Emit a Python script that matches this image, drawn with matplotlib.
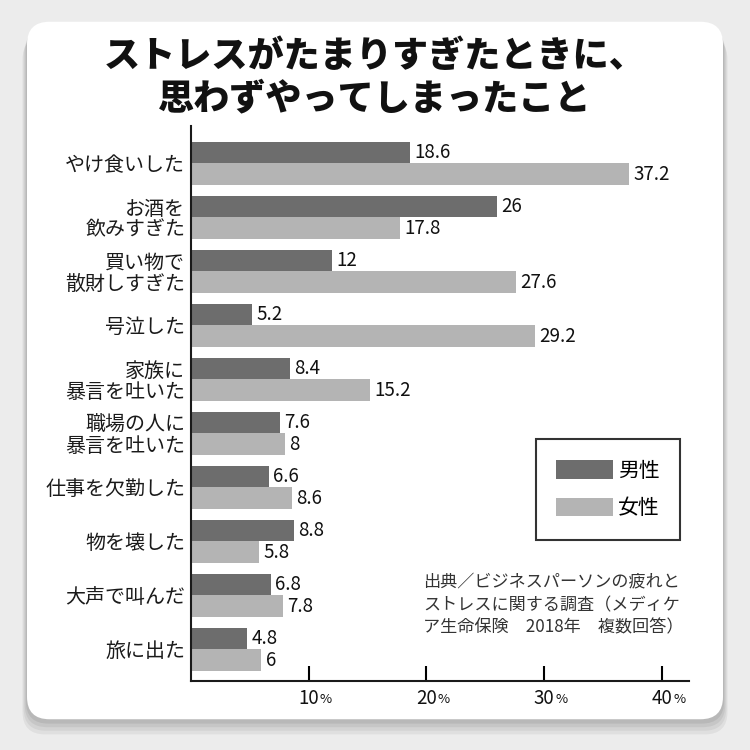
import numpy as np
import matplotlib.pyplot as plt
from matplotlib.patches import FancyBboxPatch

plt.rcParams['font.family'] = ['Noto Sans CJK JP', 'DejaVu Sans']

# data
title_lines = ['ストレスがたまりすぎたときに、', '思わずやってしまったこと']
categories = ['やけ食いした', 'お酒を\n飲みすぎた', '買い物で\n散財しすぎた', '号泣した',
              '家族に\n暴言を吐いた', '職場の人に\n暴言を吐いた', '仕事を欠勤した',
              '物を壊した', '大声で叫んだ', '旅に出た']
male = [18.6, 26, 12, 5.2, 8.4, 7.6, 6.6, 8.8, 6.8, 4.8]
female = [37.2, 17.8, 27.6, 29.2, 15.2, 8, 8.6, 5.8, 7.8, 6]
series_names = ['男性', '女性']
ticks = [10, 20, 30, 40]
source = '出典／ビジネスパーソンの疲れと\nストレスに関する調査（メディケ\nア生命保険　2018年　複数回答）'

dark = '#6d6d6d'
light = '#b4b4b4'

fig = plt.figure(figsize=(7.5, 7.5), dpi=100, facecolor='#ececec')

# soft shadow + white rounded panel
for i, a in enumerate([0.05, 0.05, 0.06, 0.07]):
    off = (4 - i) * 0.003
    fig.patches.append(FancyBboxPatch((0.036 - off / 2, 0.040 - off * 1.6), 0.928 + off, 0.93,
                                      boxstyle='round,pad=0,rounding_size=0.03',
                                      transform=fig.transFigure, facecolor='black',
                                      edgecolor='none', alpha=a, zorder=0))
fig.patches.append(FancyBboxPatch((0.036, 0.041), 0.928, 0.93,
                                  boxstyle='round,pad=0,rounding_size=0.03',
                                  transform=fig.transFigure, facecolor='white',
                                  edgecolor='none', zorder=1))

ax = fig.add_axes([0.2544, 0.0924, 0.6643, 0.7396])
ax.set_facecolor('none')
ax.set_zorder(5)

y = np.arange(len(categories))
h = 0.40
bm = ax.barh(y - h / 2, male, height=h, color=dark, label=series_names[0])
bf = ax.barh(y + h / 2, female, height=h, color=light, label=series_names[1])
ax.bar_label(bm, fmt='%g', padding=3, fontsize=13.5, color='#111111')
ax.bar_label(bf, fmt='%g', padding=3, fontsize=13.5, color='#111111')

ax.set_ylim(9.58, -0.69)
ax.set_xlim(0, 42.3)

ax.set_yticks(y, categories, fontsize=14.4, linespacing=1.0, color='#1a1a1a')
ax.tick_params(axis='y', length=0, pad=4)
ax.set_xticks(ticks, [str(t) for t in ticks], fontsize=13.5, color='#111111')
ax.tick_params(axis='x', direction='in', length=11, width=1.5, pad=5)
for t in ticks:
    ax.annotate('%', xy=(t, 0), xycoords=('data', 'axes fraction'),
                xytext=(8, -13.5), textcoords='offset points',
                fontsize=9.5, color='#111111', ha='left', va='center')

for s in ['top', 'right']:
    ax.spines[s].set_visible(False)
for s in ['left', 'bottom']:
    ax.spines[s].set_linewidth(1.5)
    ax.spines[s].set_color('#1a1a1a')

leg = ax.legend(loc='upper left', bbox_to_anchor=(0.692, 0.436), fontsize=15,
                fancybox=False, edgecolor='#333333', framealpha=1,
                handlelength=2.7, handleheight=1.0, handletextpad=0.25,
                borderpad=1.0, labelspacing=0.75, borderaxespad=0)
leg.get_frame().set_linewidth(1.5)

fig.text(423 / 750, 1 - 573 / 750, source, fontsize=12.3, va='top', ha='left',
         linespacing=1.35, color='#333333', zorder=6)

fig.text(0.5, 1 - 56 / 750, title_lines[0], fontsize=26, fontweight='heavy',
         ha='center', va='center', color='#111111', zorder=6)
fig.text(0.5, 1 - 98 / 750, title_lines[1], fontsize=26, fontweight='heavy',
         ha='center', va='center', color='#111111', zorder=6)

fig.savefig('out.png', dpi=100, facecolor=fig.get_facecolor())
